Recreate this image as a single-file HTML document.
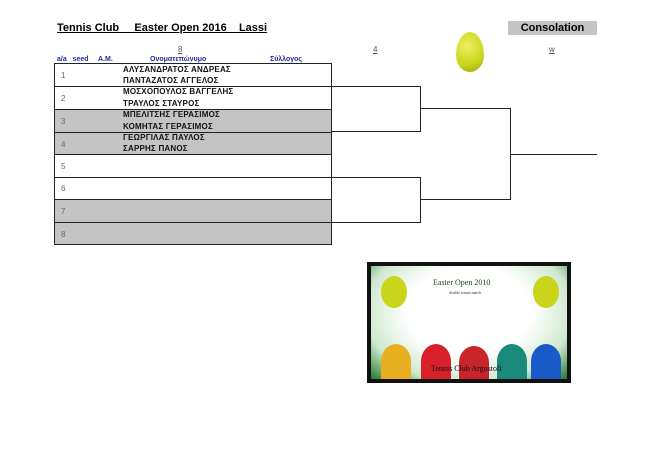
<!DOCTYPE html>
<html><head><meta charset="utf-8"><style>
body{margin:0;width:652px;height:461px;background:#fff;position:relative;overflow:hidden;font-family:"Liberation Sans",sans-serif}
.a{position:absolute}
.t{font-weight:bold;font-size:11px;text-decoration:underline;white-space:pre}
.row{position:absolute;left:54px;width:276px;border:1px solid #222;border-top:none;font-size:8px;color:#666}
.row span{position:absolute;left:6px}
.nm{position:absolute;left:68px;font-size:8px;color:#111;font-weight:bold;letter-spacing:0.2px}
.h{position:absolute;background:#222}
.hd{position:absolute;top:56px;font-size:7px;color:#1c2ea0;font-weight:bold;white-space:pre}
</style></head><body>
<div class="a t" style="left:57px;top:22px">Tennis Club     Easter Open 2016    Lassi</div>
<div class="a" style="left:508px;top:21px;width:89px;height:14px;background:#c4c4c4;font-weight:bold;font-size:11px;text-align:center;line-height:14px">Consolation</div>
<div class="a" style="left:178px;top:45px;font-size:8px;color:#555;text-decoration:underline">8</div>
<div class="a" style="left:373px;top:45px;font-size:8px;color:#555;text-decoration:underline">4</div>
<div class="a" style="left:549px;top:45px;font-size:8px;color:#555;text-decoration:underline">w</div>
<div class="a" style="left:456px;top:32px;width:28px;height:40px;border-radius:50% 50% 50% 50%/58% 58% 42% 42%;background:radial-gradient(circle at 40% 35%,#eef060,#c9d41a 60%,#9aa510)"></div>
<div class="hd" style="left:57px">a/a   seed     A.M.</div>
<div class="hd" style="left:150px">Ονοματεπώνυμο</div>
<div class="hd" style="left:270px">Σύλλογος</div>
<div class="h" style="left:54px;top:63px;width:278px;height:1px"></div>
<div class="row" style="top:64px;height:22px"><span style="top:7px">1</span><div class="nm" style="top:1px">ΑΛΥΣΑΝΔΡΑΤΟΣ ΑΝΔΡΕΑΣ</div><div class="nm" style="top:12px">ΠΑΝΤΑΖΑΤΟΣ ΑΓΓΕΛΟΣ</div></div>
<div class="row" style="top:87px;height:22px"><span style="top:7px">2</span><div class="nm" style="top:0px">ΜΟΣΧΟΠΟΥΛΟΣ ΒΑΓΓΕΛΗΣ</div><div class="nm" style="top:12px">ΤΡΑΥΛΟΣ ΣΤΑΥΡΟΣ</div></div>
<div class="row" style="top:110px;height:22px;background:#c4c4c4"><span style="top:7px">3</span><div class="nm" style="top:0px">ΜΠΕΛΙΤΣΗΣ ΓΕΡΑΣΙΜΟΣ</div><div class="nm" style="top:12px">ΚΟΜΗΤΑΣ ΓΕΡΑΣΙΜΟΣ</div></div>
<div class="row" style="top:133px;height:21px;background:#c4c4c4"><span style="top:7px">4</span><div class="nm" style="top:0px">ΓΕΩΡΓΙΛΑΣ ΠΑΥΛΟΣ</div><div class="nm" style="top:11px">ΣΑΡΡΗΣ ΠΑΝΟΣ</div></div>
<div class="row" style="top:155px;height:22px"><span style="top:7px">5</span></div>
<div class="row" style="top:178px;height:21px"><span style="top:6px">6</span></div>
<div class="row" style="top:200px;height:22px;background:#c4c4c4"><span style="top:7px">7</span></div>
<div class="row" style="top:223px;height:21px;background:#c4c4c4"><span style="top:7px">8</span></div>
<div class="h" style="left:331px;top:86px;width:90px;height:1px"></div>
<div class="h" style="left:331px;top:131px;width:90px;height:1px"></div>
<div class="h" style="left:420px;top:86px;width:1px;height:46px"></div>
<div class="h" style="left:420px;top:108px;width:90px;height:1px"></div>
<div class="h" style="left:331px;top:177px;width:90px;height:1px"></div>
<div class="h" style="left:331px;top:222px;width:90px;height:1px"></div>
<div class="h" style="left:420px;top:177px;width:1px;height:46px"></div>
<div class="h" style="left:420px;top:199px;width:90px;height:1px"></div>
<div class="h" style="left:510px;top:108px;width:1px;height:92px"></div>
<div class="h" style="left:510px;top:154px;width:87px;height:1px"></div>
<div class="a" style="left:367px;top:262px;width:204px;height:121px;background:#111">
 <div class="a" style="left:4px;top:4px;width:196px;height:113px;background:radial-gradient(ellipse at 50% 40%,#fff 45%,#cfe8cf 75%,#1f7a2a 100%)">
  <div class="a" style="left:10px;top:10px;width:26px;height:32px;border-radius:50%;background:#c9d41a"></div>
  <div class="a" style="left:162px;top:10px;width:26px;height:32px;border-radius:50%;background:#c9d41a"></div>
  <div class="a" style="left:62px;top:12px;font-family:'Liberation Serif',serif;font-size:8px;color:#1b4a1b">Easter Open 2010</div>
  <div class="a" style="left:78px;top:24px;font-family:'Liberation Serif',serif;font-size:4px;color:#333">double tennis match</div>
  <div class="a" style="left:10px;top:78px;width:30px;height:35px;border-radius:50% 50% 0 0;background:#e8b020"></div>
  <div class="a" style="left:50px;top:78px;width:30px;height:35px;border-radius:50% 50% 0 0;background:#d8202a"></div>
  <div class="a" style="left:88px;top:80px;width:30px;height:33px;border-radius:50% 50% 0 0;background:#c8242a"></div>
  <div class="a" style="left:126px;top:78px;width:30px;height:35px;border-radius:50% 50% 0 0;background:#1a8a7a"></div>
  <div class="a" style="left:160px;top:78px;width:30px;height:35px;border-radius:50% 50% 0 0;background:#1a5ac8"></div>
  <div class="a" style="left:60px;top:98px;font-family:'Liberation Serif',serif;font-size:8px;color:#111">Tennis Club Argostoli</div>
 </div>
</div>
</body></html>
